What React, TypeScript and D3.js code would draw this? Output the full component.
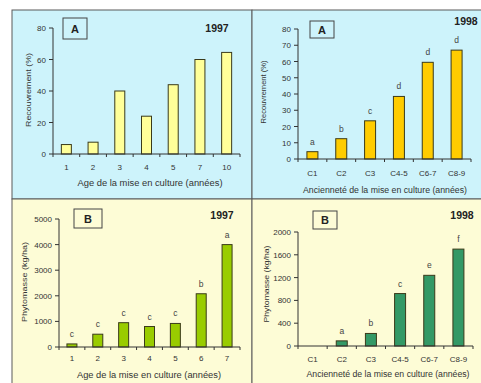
import React from 'react'
import * as d3 from 'd3'

// --- data ---
const ages97 = ['1', '2', '3', '4', '5', '7', '10']
const cover97 = [6, 7.5, 40, 24, 44, 60, 64.5]

const classes98 = ['C1', 'C2', 'C3', 'C4-5', 'C6-7', 'C8-9']
const cover98 = [4.5, 12.5, 23.5, 38.5, 59.5, 67]
const coverLetters98 = ['a', 'b', 'c', 'd', 'd', 'd']

const agesB97 = ['1', '2', '3', '4', '5', '6', '7']
const phyto97 = [120, 500, 950, 800, 920, 2080, 4000]
const phytoLetters97 = ['c', 'c', 'c', 'c', 'c', 'b', 'a']

const phyto98 = [0, 90, 220, 920, 1240, 1700]
const phytoLetters98 = ['', 'a', 'b', 'c', 'e', 'f']

const coverTicks97 = [0, 20, 40, 60, 80]
const coverTicks98 = [0, 10, 20, 30, 40, 50, 60, 70, 80]
const phytoTicks97 = [0, 1000, 2000, 3000, 4000, 5000]
const phytoTicks98 = [0, 400, 800, 1200, 1600, 2000]

const FONT = 'Liberation Sans, Arial, sans-serif'
const TXT = '#333'

function Panel(props) {
    const {
        bg, frame, x0, x1, yBase, yTop, max, ticks, cats, values, letters, catOffset,
        fill, barW, yLabel, yLabelPos, yLabelLen, xLabel, xLabelPos, xLabelLen,
        tag, tagBox, year, yearPos
    } = props

    const x = d3.scaleBand().domain(cats).range([x0, x1])
    const y = d3.scaleLinear().domain([0, max]).range([yBase, yTop])
    const edges = cats.map(c => x(c)).concat([x1])

    return (
        <g fontFamily={FONT} fill={TXT}>
            <rect x={frame[0]} y={frame[1]} width={frame[2]} height={frame[3]}
                fill={bg} stroke="#5a5a5a" strokeWidth={1} />

            {/* bars */}
            {values.map((v, i) => v > 0 && (
                <rect key={'b' + i}
                    x={x(cats[i]) + x.bandwidth() / 2 - barW / 2}
                    y={y(v)}
                    width={barW}
                    height={yBase - y(v)}
                    fill={fill} stroke="#3a3a1a" strokeWidth={1} />
            ))}

            {/* significance letters */}
            {letters && letters.map((l, i) => (
                <text key={'l' + i} x={x(cats[i]) + x.bandwidth() / 2} y={y(values[i]) - 7}
                    fontSize={8.5} textAnchor="middle" fill="#444">{l}</text>
            ))}

            {/* y axis */}
            <line x1={x0} x2={x0} y1={yTop} y2={yBase} stroke="#333" />
            {ticks.map(t => (
                <g key={'t' + t}>
                    <line x1={x0 - 4} x2={x0} y1={y(t)} y2={y(t)} stroke="#333" />
                    <text x={x0 - 7} y={y(t) + 3} fontSize={8} textAnchor="end">{t}</text>
                </g>
            ))}

            {/* x axis */}
            <line x1={x0} x2={x1} y1={yBase} y2={yBase} stroke="#333" />
            {edges.map((e, i) => (
                <line key={'e' + i} x1={e} x2={e} y1={yBase} y2={yBase + 3} stroke="#333" />
            ))}
            {cats.map(c => (
                <text key={'c' + c} x={x(c) + x.bandwidth() / 2} y={yBase + catOffset}
                    fontSize={8} textAnchor="middle">{c}</text>
            ))}

            <text x={xLabelPos[0]} y={xLabelPos[1]} fontSize={8.5} textAnchor="middle"
                textLength={xLabelLen} lengthAdjust="spacingAndGlyphs">{xLabel}</text>
            <text transform={`translate(${yLabelPos[0]},${yLabelPos[1]}) rotate(-90)`}
                fontSize={8} textAnchor="middle"
                textLength={yLabelLen} lengthAdjust="spacingAndGlyphs">{yLabel}</text>

            <rect x={tagBox[0]} y={tagBox[1]} width={tagBox[2]} height={tagBox[3]}
                fill="none" stroke="#444" strokeWidth={1} />
            <text x={tagBox[0] + tagBox[2] / 2} y={tagBox[1] + tagBox[3] / 2 + 4}
                fontSize={11} fontWeight="bold" textAnchor="middle" fill="#222">{tag}</text>
            <text x={yearPos[0]} y={yearPos[1]} fontSize={10.5} fontWeight="bold"
                textAnchor="middle" fill="#222">{year}</text>
        </g>
    )
}

export default function App() {
    const blue = '#cdf3fb'
    const cream = '#fdfcd6'
    return (
        <svg width={481} height={383}
            style={{ position: 'absolute', left: 0, top: 0, background: '#fff' }}>
            <Panel bg={blue} frame={[12, 10, 240, 189]}
                x0={53} x1={240} yBase={154} yTop={28} max={80} ticks={coverTicks97}
                cats={ages97} values={cover97} fill="#ffff99" barW={10} catOffset={16}
                yLabel="Recouvrement (%)" yLabelPos={[31, 90]} yLabelLen={74}
                xLabel="Age de la mise en culture (années)" xLabelPos={[150, 186]} xLabelLen={145}
                tag="A" tagBox={[63, 18, 24, 21]} year="1997" yearPos={[217, 32]} />

            <Panel bg={blue} frame={[252, 10, 240, 189]}
                x0={298} x1={471} yBase={159} yTop={29} max={80} ticks={coverTicks98}
                cats={classes98} values={cover98} letters={coverLetters98} catOffset={17}
                fill="#ffcc00" barW={11}
                yLabel="Recouvrement (%)" yLabelPos={[266, 92]} yLabelLen={63}
                xLabel="Ancienneté de la mise en culture (années)" xLabelPos={[385, 193]} xLabelLen={164}
                tag="A" tagBox={[310, 21, 24, 17]} year="1998" yearPos={[466, 25]} />

            <Panel bg={cream} frame={[12, 199, 240, 200]}
                x0={59} x1={240} yBase={347} yTop={219} max={5000} ticks={phytoTicks97}
                cats={agesB97} values={phyto97} letters={phytoLetters97} catOffset={14}
                fill="#99cc00" barW={10}
                yLabel="Phytomasse (kg/ha)" yLabelPos={[27, 282]} yLabelLen={80}
                xLabel="Age de la mise en culture (années)" xLabelPos={[149, 378]} xLabelLen={144}
                tag="B" tagBox={[74, 209, 28, 19]} year="1997" yearPos={[222, 219]} />

            <Panel bg={cream} frame={[252, 199, 240, 200]}
                x0={298} x1={473} yBase={346} yTop={232} max={2000} ticks={phytoTicks98}
                cats={classes98} values={phyto98} letters={phytoLetters98} catOffset={16}
                fill="#339966" barW={11}
                yLabel="Phytomasse (kg/ha)" yLabelPos={[269, 284]} yLabelLen={77}
                xLabel="Ancienneté de la mise en culture (années)" xLabelPos={[388, 377]} xLabelLen={163}
                tag="B" tagBox={[313, 211, 24, 18]} year="1998" yearPos={[462, 219]} />
        </svg>
    )
}
